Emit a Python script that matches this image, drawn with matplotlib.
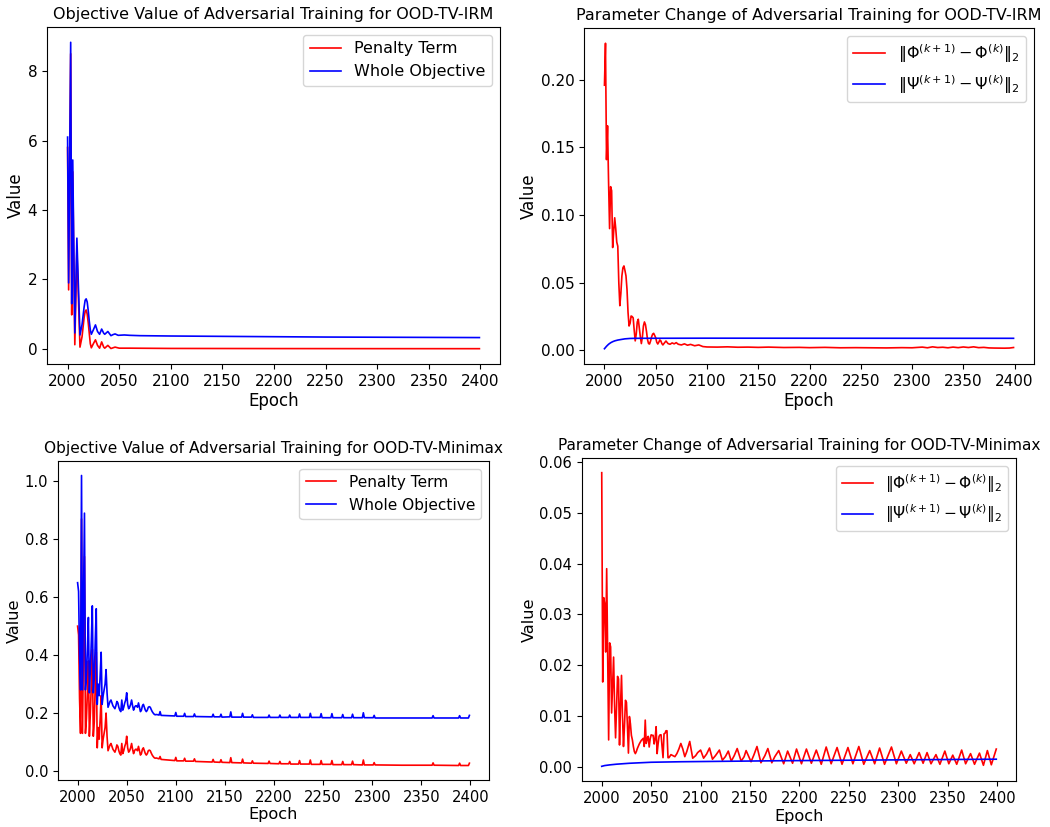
import matplotlib
matplotlib.use("Agg")
import matplotlib.pyplot as plt

# ---------------- Top-left: Objective value, OOD-TV-IRM ----------------
tl_whole_epochs = [2000, 2001, 2003, 2004, 2005, 2007, 2009, 2012, 2014, 2016, 2017, 2018,
                   2019, 2020, 2021, 2022, 2023, 2025, 2027, 2029, 2031, 2033, 2035, 2036,
                   2039, 2042, 2044, 2046, 2049, 2055, 2060, 2070, 2100, 2150, 2200, 2250,
                   2300, 2350, 2399]
tl_whole = [6.1, 1.9, 8.83, 1.3, 5.44, 0.46, 3.19, 0.40, 0.70, 1.20, 1.40, 1.44,
            1.35, 1.10, 0.80, 0.55, 0.42, 0.55, 0.69, 0.50, 0.42, 0.57, 0.45, 0.42,
            0.50, 0.38, 0.41, 0.43, 0.39, 0.40, 0.39, 0.38, 0.37, 0.36, 0.35, 0.34,
            0.335, 0.33, 0.325]
tl_pen_epochs = [2000, 2001, 2003, 2004, 2005, 2007, 2009, 2012, 2014, 2016, 2017, 2018,
                 2019, 2020, 2021, 2022, 2023, 2025, 2027, 2029, 2031, 2033, 2035, 2036,
                 2039, 2042, 2046, 2050, 2060, 2100, 2200, 2300, 2399]
tl_pen = [5.8, 1.7, 8.5, 0.98, 5.1, 0.12, 2.85, 0.05, 0.35, 0.90, 1.08, 1.12,
          1.00, 0.75, 0.45, 0.15, 0.03, 0.15, 0.26, 0.10, 0.02, 0.20, 0.05, 0.02,
          0.10, 0.01, 0.05, 0.02, 0.02, 0.012, 0.008, 0.006, 0.005]

# ---------------- Top-right: Parameter change, OOD-TV-IRM ----------------
tr_phi_epochs = [2000, 2001, 2002, 2003, 2004, 2005, 2006, 2007, 2008, 2009, 2010, 2011,
                 2012, 2013, 2014, 2015, 2016, 2017, 2018, 2019, 2020, 2021, 2022, 2023,
                 2024, 2025, 2026, 2027, 2028, 2029, 2030, 2031, 2032, 2033, 2034, 2035,
                 2036, 2037, 2038, 2039, 2040, 2041, 2042, 2043, 2044, 2045, 2046, 2047,
                 2048, 2049, 2050, 2051, 2052, 2053, 2054, 2055, 2056, 2057, 2058, 2060,
                 2062, 2064, 2066, 2068, 2070, 2072, 2075, 2078, 2081, 2084, 2088, 2092,
                 2096, 2100, 2110, 2120, 2130, 2140, 2150, 2160, 2175, 2190, 2200, 2215,
                 2230, 2245, 2260, 2275, 2290, 2300, 2310, 2315, 2320, 2325, 2330, 2335,
                 2340, 2345, 2350, 2355, 2360, 2365, 2370, 2375, 2380, 2390, 2395, 2399]
tr_phi = [0.196, 0.227, 0.141, 0.166, 0.125, 0.090, 0.121, 0.118, 0.076, 0.088, 0.098, 0.090,
          0.080, 0.077, 0.050, 0.033, 0.042, 0.055, 0.061, 0.0624, 0.059, 0.055, 0.045, 0.028,
          0.018, 0.020, 0.0254, 0.025, 0.024, 0.015, 0.007, 0.012, 0.021, 0.023, 0.0165, 0.010,
          0.005, 0.010, 0.018, 0.021, 0.019, 0.014, 0.008, 0.005, 0.0047, 0.007, 0.010, 0.012,
          0.0126, 0.011, 0.0093, 0.006, 0.0047, 0.006, 0.0077, 0.007, 0.005, 0.004, 0.005, 0.0069,
          0.005, 0.0045, 0.0055, 0.0048, 0.0057, 0.0045, 0.004, 0.0048, 0.0038, 0.0044, 0.0034, 0.004,
          0.0028, 0.0025, 0.0024, 0.0026, 0.0023, 0.0024, 0.0022, 0.0024, 0.0021, 0.0022, 0.002, 0.0022,
          0.0019, 0.002, 0.0019, 0.0018, 0.0020, 0.0019, 0.0024, 0.0019, 0.0026, 0.0021, 0.0023, 0.0019,
          0.0024, 0.002, 0.0025, 0.0021, 0.0026, 0.002, 0.0022, 0.0018, 0.0017, 0.0016, 0.0017, 0.0021]
tr_psi_epochs = [2000, 2002, 2004, 2006, 2008, 2010, 2013, 2016, 2020, 2025, 2030, 2100, 2399]
tr_psi = [0.0012, 0.0030, 0.0045, 0.0056, 0.0064, 0.0070, 0.0076, 0.0080, 0.0085, 0.0088,
          0.0089, 0.0090, 0.0089]

# ---------------- Bottom-left: Objective value, OOD-TV-Minimax ----------------
bl_epochs = [2000, 2001, 2002, 2003, 2004, 2005, 2006, 2007, 2008, 2009, 2010, 2011,
             2012, 2013, 2014, 2015, 2016, 2017, 2018, 2019, 2020, 2021, 2022, 2023,
             2024, 2025, 2026, 2027, 2028, 2029, 2030, 2031, 2032, 2033, 2034, 2035,
             2036, 2037, 2038, 2039, 2040, 2041, 2042, 2043, 2044, 2045, 2046, 2047,
             2048, 2049, 2050, 2051, 2052, 2053, 2054, 2055, 2056, 2057, 2058, 2059,
             2060, 2061, 2062, 2063, 2064, 2065, 2066, 2067, 2068, 2069, 2070, 2071,
             2072, 2073, 2074, 2075, 2076, 2077, 2078, 2079, 2080, 2082, 2083, 2084,
             2085, 2099, 2100, 2101, 2108, 2109, 2110, 2118, 2119, 2120, 2137, 2138,
             2139, 2145, 2146, 2147, 2155, 2156, 2157, 2167, 2168, 2169, 2177, 2178,
             2179, 2194, 2195, 2196, 2205, 2206, 2207, 2215, 2216, 2217, 2225, 2226,
             2227, 2236, 2237, 2238, 2247, 2248, 2249, 2258, 2259, 2260, 2269, 2270,
             2271, 2279, 2280, 2281, 2290, 2291, 2292, 2301, 2302, 2303, 2330, 2361,
             2362, 2363, 2388, 2389, 2390, 2398, 2399]
bl_whole = [0.65, 0.62, 0.40, 0.28, 1.02, 0.28, 0.60, 0.89, 0.28, 0.33, 0.42, 0.53,
            0.27, 0.35, 0.45, 0.57, 0.27, 0.32, 0.45, 0.56, 0.23, 0.30, 0.26, 0.33,
            0.41, 0.23, 0.26, 0.28, 0.30, 0.35, 0.27, 0.22, 0.23, 0.24, 0.245, 0.235,
            0.225, 0.22, 0.215, 0.225, 0.24, 0.235, 0.22, 0.21, 0.205, 0.245, 0.21, 0.22,
            0.235, 0.245, 0.27, 0.23, 0.215, 0.22, 0.23, 0.245, 0.225, 0.21, 0.22, 0.225,
            0.225, 0.22, 0.235, 0.22, 0.205, 0.21, 0.225, 0.23, 0.22, 0.21, 0.205, 0.21,
            0.22, 0.222, 0.22, 0.212, 0.205, 0.20, 0.196, 0.194, 0.195, 0.194, 0.193, 0.205,
            0.192, 0.190, 0.202, 0.189, 0.189, 0.199, 0.188, 0.188, 0.197, 0.188, 0.187, 0.196,
            0.187, 0.187, 0.196, 0.186, 0.187, 0.204, 0.186, 0.186, 0.199, 0.186, 0.186, 0.194,
            0.185, 0.185, 0.193, 0.185, 0.185, 0.193, 0.185, 0.185, 0.193, 0.185, 0.185, 0.197,
            0.185, 0.185, 0.199, 0.185, 0.185, 0.198, 0.184, 0.184, 0.198, 0.184, 0.184, 0.195,
            0.184, 0.184, 0.196, 0.184, 0.184, 0.201, 0.184, 0.184, 0.192, 0.183, 0.183, 0.183,
            0.191, 0.183, 0.183, 0.191, 0.183, 0.183, 0.192]
bl_pen = [0.50, 0.47, 0.25, 0.13, 0.87, 0.13, 0.45, 0.74, 0.13, 0.18, 0.27, 0.38,
          0.12, 0.20, 0.30, 0.42, 0.12, 0.17, 0.30, 0.41, 0.08, 0.15, 0.11, 0.18,
          0.26, 0.08, 0.11, 0.13, 0.15, 0.20, 0.12, 0.07, 0.08, 0.09, 0.095, 0.085,
          0.075, 0.07, 0.065, 0.075, 0.09, 0.085, 0.07, 0.06, 0.055, 0.095, 0.06, 0.07,
          0.085, 0.095, 0.12, 0.08, 0.065, 0.07, 0.08, 0.095, 0.075, 0.06, 0.07, 0.075,
          0.075, 0.07, 0.085, 0.07, 0.055, 0.06, 0.075, 0.08, 0.07, 0.06, 0.055, 0.06,
          0.07, 0.072, 0.07, 0.062, 0.055, 0.05, 0.046, 0.044, 0.045, 0.043, 0.042, 0.05,
          0.040, 0.036, 0.047, 0.035, 0.035, 0.044, 0.034, 0.034, 0.042, 0.033, 0.031, 0.040,
          0.031, 0.030, 0.039, 0.030, 0.029, 0.046, 0.029, 0.028, 0.041, 0.028, 0.027, 0.035,
          0.027, 0.026, 0.034, 0.026, 0.025, 0.033, 0.025, 0.025, 0.033, 0.024, 0.024, 0.036,
          0.024, 0.024, 0.038, 0.023, 0.023, 0.036, 0.023, 0.023, 0.036, 0.022, 0.022, 0.033,
          0.022, 0.022, 0.034, 0.022, 0.021, 0.038, 0.021, 0.021, 0.029, 0.021, 0.020, 0.020,
          0.028, 0.020, 0.019, 0.027, 0.019, 0.019, 0.027]

# ---------------- Bottom-right: Parameter change, OOD-TV-Minimax ----------------
br_phi_epochs = [2000, 2001, 2002, 2003, 2004, 2005, 2006, 2007, 2008, 2009, 2010, 2011,
                 2012, 2013, 2014, 2015, 2016, 2017, 2018, 2019, 2020, 2021, 2022, 2023,
                 2024, 2025, 2026, 2027, 2028, 2029, 2030, 2031, 2032, 2033, 2034, 2035,
                 2036, 2038, 2040, 2042, 2043, 2044, 2045, 2046, 2047, 2048, 2049, 2050,
                 2051, 2052, 2053, 2054, 2055, 2056, 2057, 2058, 2059, 2060, 2061, 2062,
                 2063, 2064, 2065, 2066, 2067, 2068, 2070, 2072, 2074, 2076, 2078, 2080,
                 2082, 2084, 2086, 2089, 2092, 2095, 2097, 2100, 2103, 2106, 2109, 2112,
                 2115, 2119, 2122, 2125, 2128, 2131, 2134, 2137, 2141, 2144, 2146, 2151,
                 2154, 2157, 2161, 2165, 2168, 2172, 2175, 2179, 2184, 2188, 2193, 2197,
                 2202, 2207, 2212, 2217, 2222, 2227, 2232, 2238, 2243, 2249, 2254, 2260,
                 2265, 2271, 2276, 2281, 2286, 2293, 2298, 2303, 2308, 2312, 2316, 2321,
                 2325, 2329, 2333, 2338, 2342, 2347, 2351, 2355, 2359, 2364, 2368, 2373,
                 2377, 2382, 2386, 2390, 2394, 2399]
br_phi = [0.0579, 0.0167, 0.0333, 0.0321, 0.0226, 0.0390, 0.0226, 0.0053, 0.0244, 0.0236, 0.0106, 0.0160,
          0.0216, 0.0120, 0.0057, 0.0120, 0.0178, 0.0173, 0.0043, 0.0120, 0.0180, 0.0100, 0.0040, 0.0080,
          0.0131, 0.0127, 0.0080, 0.0027, 0.0099, 0.0085, 0.0062, 0.0053, 0.0040, 0.0030, 0.0026, 0.0030,
          0.0036, 0.0045, 0.0052, 0.0056, 0.0040, 0.0092, 0.0046, 0.0055, 0.0060, 0.0039, 0.0055, 0.0063,
          0.0062, 0.0062, 0.0045, 0.0055, 0.0079, 0.0026, 0.0045, 0.0060, 0.0063, 0.0063, 0.0040, 0.0018,
          0.0065, 0.0066, 0.0071, 0.0071, 0.0018, 0.0018, 0.0024, 0.0022, 0.0020, 0.0026, 0.0035, 0.0046,
          0.0035, 0.0020, 0.0030, 0.0050, 0.0017, 0.0022, 0.0028, 0.0033, 0.0017, 0.0025, 0.0037, 0.0015,
          0.0022, 0.0033, 0.0013, 0.0020, 0.0031, 0.0011, 0.0022, 0.0036, 0.0011, 0.0020, 0.0032, 0.0010,
          0.0024, 0.0040, 0.0008, 0.0022, 0.0036, 0.0008, 0.0020, 0.0032, 0.0006, 0.0031, 0.0007, 0.0035,
          0.0006, 0.0035, 0.0007, 0.0033, 0.0005, 0.0039, 0.0006, 0.0038, 0.0005, 0.0038, 0.0006, 0.0040,
          0.0005, 0.0032, 0.0006, 0.0037, 0.0005, 0.0039, 0.0006, 0.0031, 0.0007, 0.0024, 0.0006, 0.0028,
          0.0007, 0.0028, 0.0006, 0.0024, 0.0005, 0.0031, 0.0006, 0.0023, 0.0005, 0.0033, 0.0006, 0.0026,
          0.0005, 0.0027, 0.0003, 0.0032, 0.0004, 0.0035]
br_psi_epochs = [2000, 2003, 2008, 2015, 2028, 2050, 2080, 2130, 2180, 2250, 2320, 2399]
br_psi = [0.0001, 0.00025, 0.00038, 0.00052, 0.0007, 0.0009, 0.0010, 0.0011, 0.0012, 0.0013,
          0.0014, 0.0015]

# ---------------- Text ----------------
titles = ["Objective Value of Adversarial Training for OOD-TV-IRM",
          "Parameter Change of Adversarial Training for OOD-TV-IRM",
          "Objective Value of Adversarial Training for OOD-TV-Minimax",
          "Parameter Change of Adversarial Training for OOD-TV-Minimax"]
obj_labels = ["Penalty Term", "Whole Objective"]
par_labels = [r"$\|\Phi^{(k+1)} - \Phi^{(k)}\|_2$", r"$\|\Psi^{(k+1)} - \Psi^{(k)}\|_2$"]
xticks = [2000, 2050, 2100, 2150, 2200, 2250, 2300, 2350, 2400]

W, H = 1050, 827
fig = plt.figure(figsize=(W / 100, H / 100), dpi=100)

def box(left, right, top, bottom):
    return [left / W, 1 - bottom / H, (right - left) / W, (bottom - top) / H]

ax_tl = fig.add_axes(box(47, 500, 27, 364))
ax_tr = fig.add_axes(box(584, 1034, 28, 364))
ax_bl = fig.add_axes(box(58, 489, 461, 780))
ax_br = fig.add_axes(box(582, 1016, 458, 781))

ax_tl.plot(tl_pen_epochs, tl_pen, color="red", lw=1.2, label=obj_labels[0])
ax_tl.plot(tl_whole_epochs, tl_whole, color="blue", lw=1.2, label=obj_labels[1])
ax_tr.plot(tr_phi_epochs, tr_phi, color="red", lw=1.2, label=par_labels[0])
ax_tr.plot(tr_psi_epochs, tr_psi, color="blue", lw=1.2, label=par_labels[1])
ax_bl.plot(bl_epochs, bl_pen, color="red", lw=1.2, label=obj_labels[0])
ax_bl.plot(bl_epochs, bl_whole, color="blue", lw=1.2, label=obj_labels[1])
ax_br.plot(br_phi_epochs, br_phi, color="red", lw=1.2, label=par_labels[0])
ax_br.plot(br_psi_epochs, br_psi, color="blue", lw=1.2, label=par_labels[1])

sizes = {ax_tl: 11.5, ax_tr: 11.5, ax_bl: 11.1, ax_br: 11.1}
for ax, t in zip([ax_tl, ax_tr, ax_bl, ax_br], titles):
    fs = sizes[ax]
    ax.set_title(t, fontsize=fs)
    ax.set_xlabel("Epoch", fontsize=fs + 0.5, labelpad=2)
    ax.set_ylabel("Value", fontsize=fs + 0.5, labelpad=2)
    ax.set_xticks(xticks)
    ax.tick_params(labelsize=fs - 0.5)
    ax.legend(loc="upper right", fontsize=fs)

fig.savefig("out.png", dpi=100)
